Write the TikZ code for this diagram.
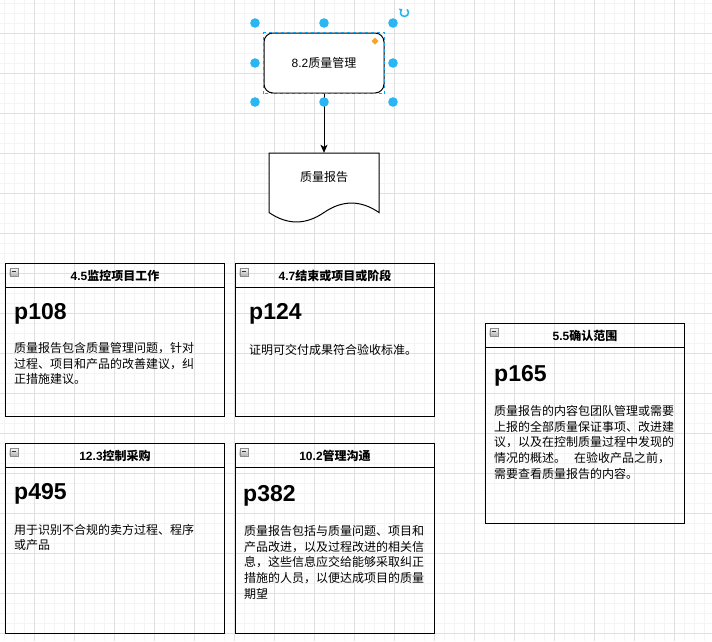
\documentclass[tikz,border=0pt]{standalone}
\usepackage{fontspec}
\setmainfont{Liberation Sans}
\newfontfamily\cjk{Noto Sans CJK SC}
\usetikzlibrary{calc,arrows.meta}
\definecolor{gridminor}{HTML}{F4F4F4}
\definecolor{gridmajor}{HTML}{E0E0E0}
\definecolor{handleblue}{HTML}{29B6F2}
\definecolor{selblue}{HTML}{00A8FF}
\definecolor{handleorange}{HTML}{F5A623}
\begin{document}
\begin{tikzpicture}[x=1pt,y=-1pt,
  minorline/.style={gridminor, line width=0.8pt},
  majorline/.style={gridmajor, line width=0.8pt},
  lane/.style={draw=black, line width=1pt, anchor=north west, inner sep=0pt},
  laneline/.style={draw=black, line width=1pt},
  hdr/.style={font=\bfseries\fontsize{12pt}{14pt}\selectfont, anchor=base, inner sep=0pt},
  pnum/.style={font=\bfseries\fontsize{23pt}{27pt}\selectfont, anchor=base west, inner sep=0pt},
  body/.style={font=\cjk\fontsize{12pt}{15.7pt}\selectfont, anchor=base west, inner sep=0pt},
  collapse/.style={draw=black!45, top color=white, bottom color=black!30, minimum size=8pt, inner sep=0pt, anchor=north west,
     path picture={\draw[black!80, line width=0.8pt] ([xshift=1.8pt]path picture bounding box.west) -- ([xshift=-1.8pt]path picture bounding box.east);}},
  topbox/.style={draw=black, line width=1pt, fill=white, rounded corners=9pt, minimum width=120pt, minimum height=60pt, inner sep=0pt, font=\fontsize{12pt}{14pt}\selectfont},
  handle/.style={fill=handleblue, draw=none},
  conn/.style={draw=black, line width=1pt, -{Stealth[length=8pt,width=7pt,inset=2pt]}},
  docshape/.style={draw=black, line width=1pt, fill=white},
  lbl/.style={font=\fontsize{12pt}{14pt}\selectfont, inner sep=0pt}
]
\useasboundingbox (0,0) rectangle (712,641);
\fill[white] (0,0) rectangle (712,641);
% grid
\foreach \x in {4,14,...,712} \draw[minorline] (\x,0) -- (\x,641);
\foreach \y in {3,13,...,641} \draw[minorline] (0,\y) -- (712,\y);
\foreach \x in {34,74,...,712} \draw[majorline] (\x,0) -- (\x,641);
\foreach \y in {33,73,...,641} \draw[majorline] (0,\y) -- (712,\y);

% top process box
\node[topbox] (top) at (324,63) {8.2{\cjk 质量管理}};
% document
\node[minimum width=110pt, minimum height=70pt, inner sep=0pt] (doc) at (324,188) {};
\draw[docshape] (269,153) -- (379,153) -- (379,212.5)
  .. controls (360.67,199.9) and (342.33,199.9) .. (324,212.5)
  .. controls (305.67,225.1) and (287.33,225.1) .. (269,212.5) -- cycle;
\node[lbl] (doclbl) at (324,177) {\cjk 质量报告};
\draw[conn] (top.south) -- (doc.north);

% selection decorations
\draw[selblue, line width=1pt, dash pattern=on 3pt off 3pt] (top.south west) rectangle (top.north east);
\foreach \hx in {255,324,393}
  \foreach \hy in {23,63,102} {
    \ifnum\hx=324 \ifnum\hy=63 \else \fill[handle] (\hx,\hy) circle (4.8pt); \fi
    \else \fill[handle] (\hx,\hy) circle (4.8pt); \fi
  }
\fill[handleorange] (375,37.5) -- (378.5,41) -- (375,44.5) -- (371.5,41) -- cycle;
\draw[handleblue, line width=1.6pt, -{Triangle[length=3pt,width=4.5pt]}] (404.5,12.5) ++(50:4pt) arc (50:-240:4pt);

% lane 1
\node[lane, minimum width=219pt, minimum height=153pt] (l1) at (5,263) {};
\draw[laneline] ($(l1.north west)+(0,24)$) -- ($(l1.north east)+(0,24)$);
\node[collapse] (c1) at ($(l1.north west)+(4.5,4.5)$) {};
\node[hdr] (h1) at ($(l1.north)+(0,17)$) {4.5{\cjk 监控项目工作}};
\node[pnum] (p1) at (14,319) {p108};
\node[body] (t1) at (14,352.3) {\begin{tabular}[t]{@{}l@{}}质量报告包含质量管理问题，针对\\过程、项目和产品的改善建议，纠\\正措施建议。\end{tabular}};

% lane 2
\node[lane, minimum width=199pt, minimum height=153pt] (l2) at (235,263) {};
\draw[laneline] ($(l2.north west)+(0,24)$) -- ($(l2.north east)+(0,24)$);
\node[collapse] (c2) at ($(l2.north west)+(4.5,4.5)$) {};
\node[hdr] (h2) at ($(l2.north)+(0,17)$) {4.7{\cjk 结束或项目或阶段}};
\node[pnum] (p2) at (249,319.3) {p124};
\node[body] (t2) at (249,354.6) {\begin{tabular}[t]{@{}l@{}}证明可交付成果符合验收标准。\end{tabular}};

% lane 3
\node[lane, minimum width=219pt, minimum height=190pt] (l3) at (5,443) {};
\draw[laneline] ($(l3.north west)+(0,24)$) -- ($(l3.north east)+(0,24)$);
\node[collapse] (c3) at ($(l3.north west)+(4.5,4.5)$) {};
\node[hdr] (h3) at ($(l3.north)+(0,17)$) {12.3{\cjk 控制采购}};
\node[pnum] (p3) at (14,499) {p495};
\node[body] (t3) at (14,534) {\begin{tabular}[t]{@{}l@{}}用于识别不合规的卖方过程、程序\\或产品\end{tabular}};

% lane 4
\node[lane, minimum width=199pt, minimum height=190pt] (l4) at (235,443) {};
\draw[laneline] ($(l4.north west)+(0,24)$) -- ($(l4.north east)+(0,24)$);
\node[collapse] (c4) at ($(l4.north west)+(4.5,4.5)$) {};
\node[hdr] (h4) at ($(l4.north)+(0,17)$) {10.2{\cjk 管理沟通}};
\node[pnum] (p4) at (243,501.7) {p382};
\node[body] (t4) at (244,535.3) {\begin{tabular}[t]{@{}l@{}}质量报告包括与质量问题、项目和\\产品改进，以及过程改进的相关信\\息，这些信息应交给能够采取纠正\\措施的人员，以便达成项目的质量\\期望\end{tabular}};

% lane 5
\node[lane, minimum width=199pt, minimum height=200pt] (l5) at (485,323) {};
\draw[laneline] ($(l5.north west)+(0,24)$) -- ($(l5.north east)+(0,24)$);
\node[collapse] (c5) at ($(l5.north west)+(4.5,4.5)$) {};
\node[hdr] (h5) at ($(l5.north)+(0,17)$) {5.5{\cjk 确认范围}};
\node[pnum] (p5) at (494,381) {p165};
\node[body] (t5) at (494,415.3) {\begin{tabular}[t]{@{}l@{}}质量报告的内容包团队管理或需要\\上报的全部质量保证事项、改进建\\议，以及在控制质量过程中发现的\\情况的概述。\hspace*{8pt}在验收产品之前，\\需要查看质量报告的内容。\end{tabular}};
\end{tikzpicture}
\end{document}
